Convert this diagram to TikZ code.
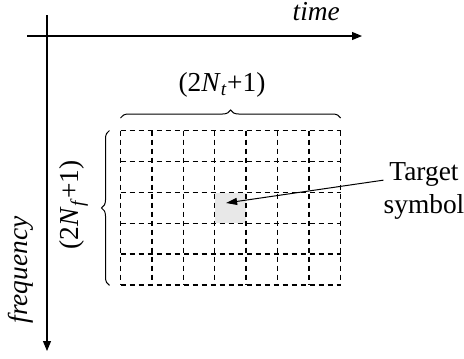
\documentclass[tikz,border=0pt]{standalone}
\usepackage{fontspec}
\setmainfont{Liberation Serif}
\usetikzlibrary{arrows.meta,positioning,decorations.pathreplacing}
\tikzset{
  axis/.style ={-{Triangle[length=10bp,width=8bp]}, line width=1.1bp},
  cellgrid/.style ={dash pattern=on 5.5bp off 3.5bp, line width=1.25bp},
  brc/.style ={decorate, decoration={brace, amplitude=8bp}, line width=1bp},
  lbl/.style ={font=\fontsize{27.5}{33}\selectfont, inner sep=0pt, align=center},
  ptr/.style ={-{Triangle[length=11bp,width=7bp]}, line width=1bp},
}

\begin{document}
\begin{tikzpicture}[x=1bp,y=-1bp]
  \useasboundingbox (0,0) rectangle (464,358);
  % axes
  \coordinate (tl) at (27,36);
  \coordinate (tr) at (362,36);
  \coordinate (fu) at (47,15);
  \coordinate (fd) at (47,351);
  \draw[axis] (tl) -- (tr);
  \draw[axis] (fu) -- (fd);
  \node[lbl, anchor=base east] (time) at (340,20.5) {\textit{time}};
  \node[lbl, rotate=90] (freq) at (21,270) {\textit{frequency}};
  % grid of symbols, 7 x 5
  \node[minimum width=219.8bp, minimum height=154.5bp, inner sep=0pt] (grd) at (230.6,207.95) {};
  \node[minimum width=31.4bp, minimum height=30.9bp, inner sep=0pt, fill=black!9] (cell) at (230.6,208) {};
  \foreach \i in {0,...,7}
    \draw[cellgrid] ([xshift=\i*31.4bp]grd.north west) -- ([xshift=\i*31.4bp]grd.south west);
  \foreach \j in {0,...,5}
    \draw[cellgrid] ([yshift=-\j*30.9bp]grd.north west) -- ([yshift=-\j*30.9bp]grd.north east);
  % braces
  \draw[brc] ([yshift=12.5bp]grd.north west) -- ([yshift=12.5bp]grd.north east);
  \draw[brc] ([xshift=-11bp]grd.south west) -- ([xshift=-11bp]grd.north west);
  \node[lbl] (nt) at (222,85) {(2\textit{N}\textsubscript{\textit{t}}+1)};
  \node[lbl, rotate=90] (nf) at (74,205) {(2\textit{N}\textsubscript{\textit{f}}+1)};
  % target
  \node[lbl] (tgt) at (424,191) {Target\\symbol};
  \coordinate (tip) at ([shift={(-4.5bp,5bp)}]cell.center);
  \draw[ptr] (tgt.165) -- (tip);
\end{tikzpicture}
\end{document}
